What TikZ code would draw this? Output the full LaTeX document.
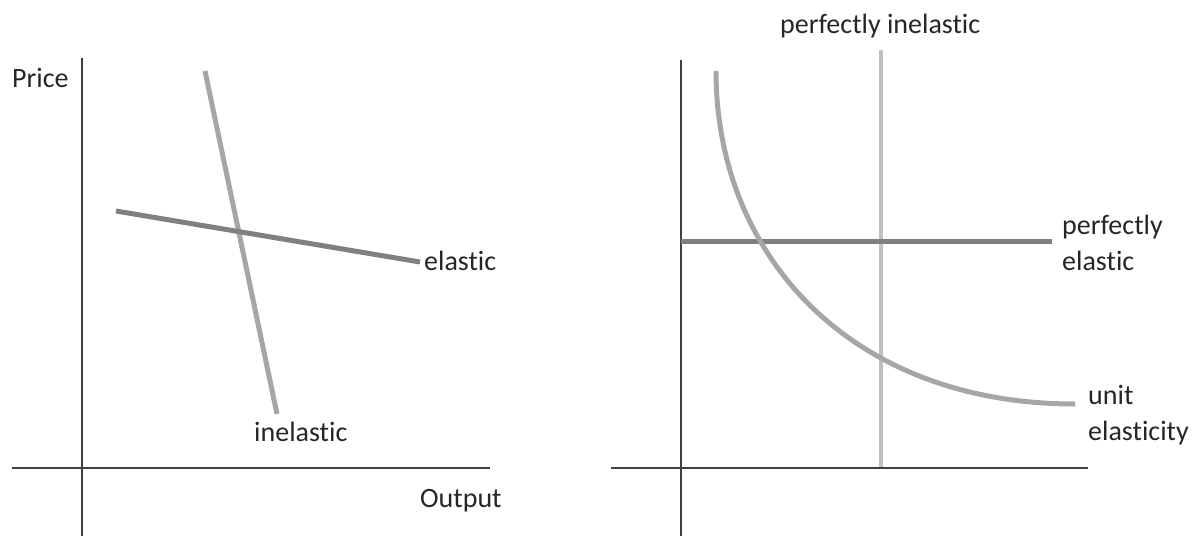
\documentclass[tikz,border=0pt]{standalone}
\usepackage{fontspec}
\setmainfont{Carlito}[Ligatures=NoCommon]
\begin{document}
\begin{tikzpicture}[x=1pt,y=-1pt,
  axis/.style={draw=black!75,line width=2pt},
  darkline/.style={draw=black!50,line width=5pt},
  lightline/.style={draw=black!35,line width=5pt},
  palevert/.style={draw=black!25,line width=4pt},
  lbl/.style={anchor=base west,inner sep=0pt,font=\fontsize{28}{34}\selectfont,text=black!85}]
\useasboundingbox (0,0) rectangle (1202,536);
% left panel
\coordinate (LyT) at (82,58); \coordinate (LyB) at (82,536);
\coordinate (LxL) at (12,468); \coordinate (LxR) at (490,468);
\draw[axis] (LyT) -- (LyB);
\draw[axis] (LxL) -- (LxR);
\coordinate (inA) at (205,71); \coordinate (inB) at (277,414);
\draw[lightline] (inA) -- (inB);
\coordinate (elA) at (116,211); \coordinate (elB) at (420,262);
\draw[darkline] (elA) -- (elB);
\node[lbl] (price) at (12,87) {Price};
\node[lbl] (elastic) at (424,270) {elastic};
\node[lbl] (inelastic) at (254,441) {inelastic};
\node[lbl] (output) at (420,507) {Output};
% right panel
\coordinate (RyT) at (681,60); \coordinate (RyB) at (681,536);
\coordinate (RxL) at (611,468); \coordinate (RxR) at (1088,468);
\draw[axis] (RyT) -- (RyB);
\draw[axis] (RxL) -- (RxR);
\coordinate (pvT) at (881,50); \coordinate (pvB) at (881,467);
\draw[palevert] (pvT) -- (pvB);
\coordinate (peL) at (681,241); \coordinate (peR) at (1052,241);
\draw[darkline] (peL) -- (peR);
\coordinate (ueA) at (716,71); \coordinate (ueB) at (1075,404);
\draw[lightline] (ueA) .. controls (716,255) and (850,404) .. (ueB);
\node[lbl] (pinel) at (780,33) {perfectly inelastic};
\node[lbl] (pel1) at (1062,234) {perfectly};
\node[lbl] (pel2) at (1062,270) {elastic};
\node[lbl] (unit1) at (1088,404) {unit};
\node[lbl] (unit2) at (1088,440) {elasticity};
\end{tikzpicture}
\end{document}
